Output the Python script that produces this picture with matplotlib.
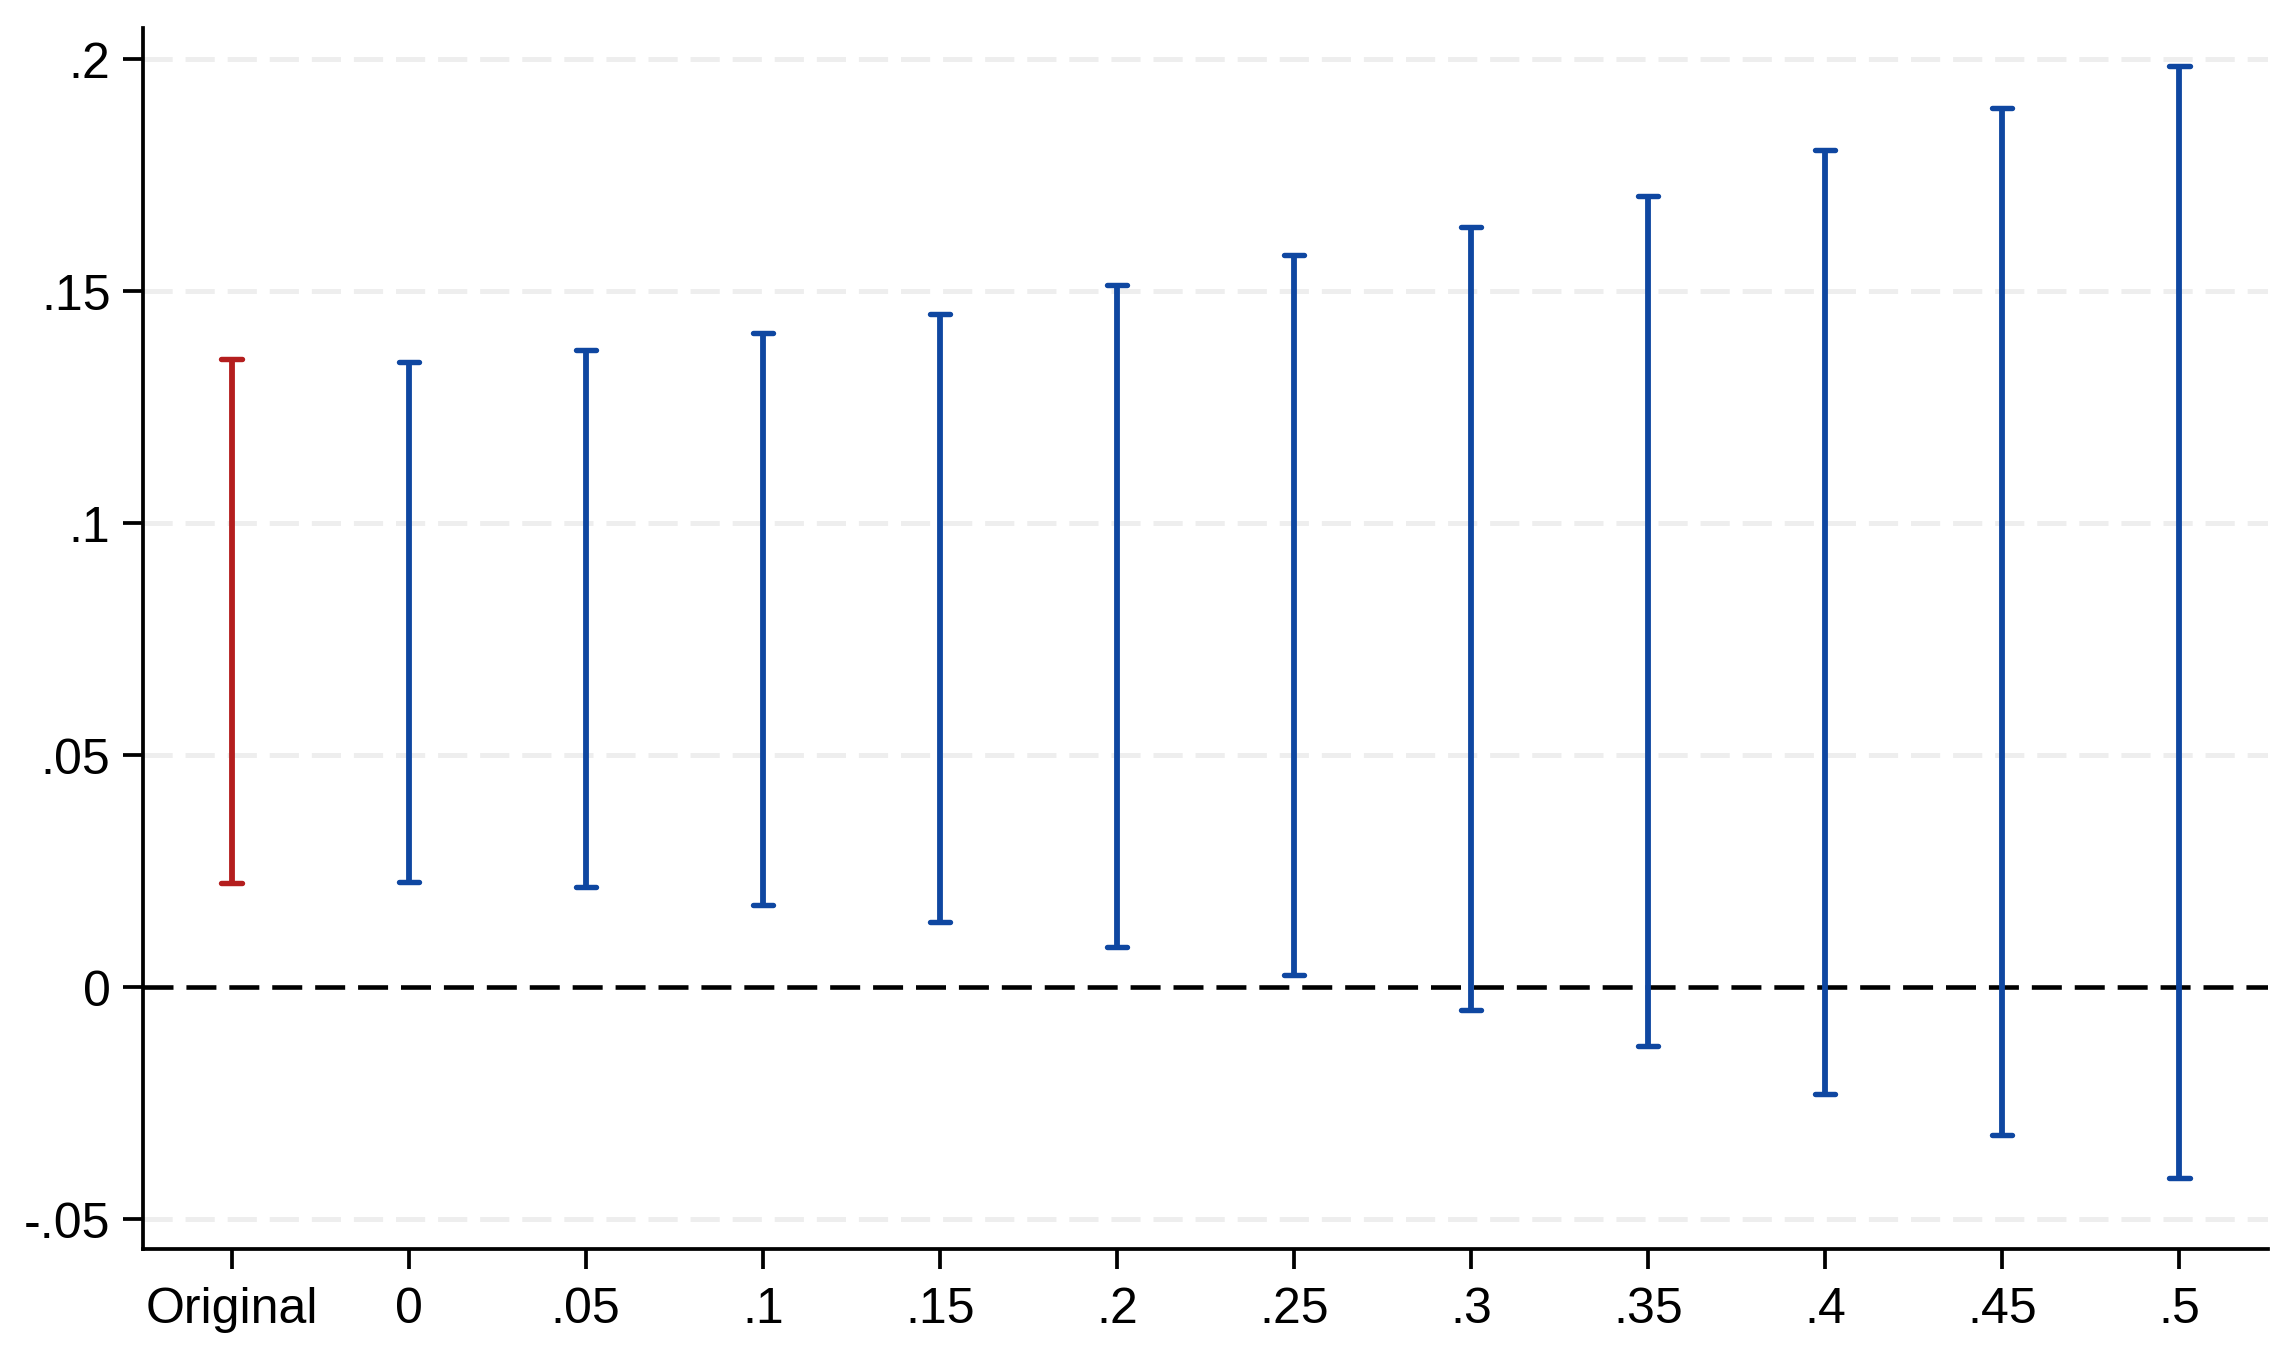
import matplotlib
matplotlib.use("Agg")
import matplotlib.pyplot as plt

categories = ["Original", "0", ".05", ".1", ".15", ".2", ".25", ".3", ".35", ".4", ".45", ".5"]
upper = [0.1353, 0.1348, 0.1372, 0.1410, 0.1451, 0.1514, 0.1577, 0.1637, 0.1704, 0.1805, 0.1895, 0.1986]
lower = [0.0224, 0.0227, 0.0215, 0.0177, 0.0139, 0.0085, 0.0025, -0.0050, -0.0128, -0.0230, -0.0320, -0.0411]
colors = ["#B41E1E"] + ["#0F47A1"] * 11
yticks = [-0.05, 0, 0.05, 0.1, 0.15, 0.2]
ytick_labels = ["-.05", "0", ".05", ".1", ".15", ".2"]

plt.rcParams['font.family'] = ['Liberation Sans', 'DejaVu Sans']

fig = plt.figure(figsize=(2295/300, 1368/300), dpi=300)
ax = fig.add_axes([143/2295, (1368-1250)/1368, (2268-143)/2295, (1250-29)/1368])

x = list(range(len(categories)))
ax.set_xlim(-0.5, 11.5)
ax.set_ylim(-0.0565, 0.2067)

# grid
for yv in yticks:
    if yv == 0:
        continue
    ax.axhline(yv, color="#EEEEEE", lw=1.2, linestyle=(0, (7/1.2, 3.1/1.2)), zorder=0)
ax.axhline(0, color="black", lw=1.1, linestyle=(0, (7.2/1.1, 3.1/1.1)), zorder=1)

for xi, lo, hi, c in zip(x, lower, upper, colors):
    ax.vlines(xi, lo, hi, color=c, lw=1.4, zorder=3)
    ax.hlines([lo, hi], xi - 0.057, xi + 0.057, color=c, lw=1.3, zorder=3,
              capstyle="round")

ax.set_xticks(x)
ax.set_xticklabels(categories)
ax.set_yticks(yticks)
ax.set_yticklabels(ytick_labels)

for s in ["top", "right"]:
    ax.spines[s].set_visible(False)
for s in ["left", "bottom"]:
    ax.spines[s].set_linewidth(0.9)
ax.tick_params(axis="both", length=4.8, width=0.9, labelsize=12, colors="black")
ax.tick_params(axis="x", pad=4)
ax.tick_params(axis="y", pad=3)

fig.savefig("out.png", dpi=300)
